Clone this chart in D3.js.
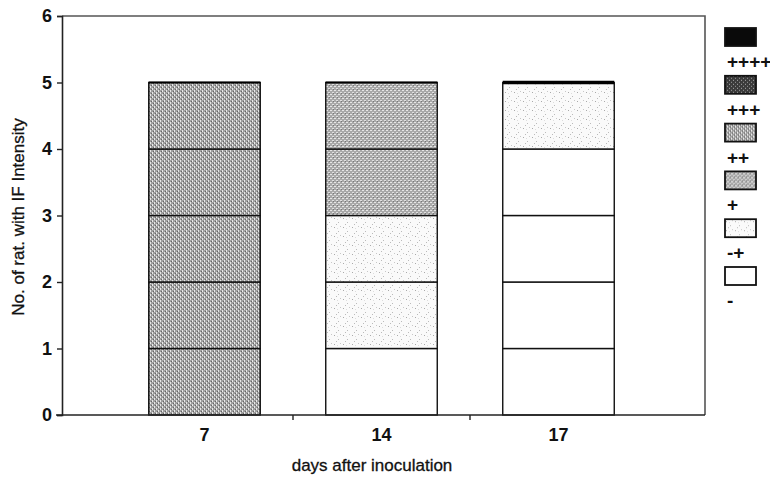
<!DOCTYPE html>
<html>
<head>
<meta charset="utf-8">
<script src="https://cdn.jsdelivr.net/npm/d3@7"></script>
<style>
body { margin: 0; background: #fff; }
text { font-family: "Liberation Sans Narrow", "Liberation Sans", Arial, sans-serif; fill: #111; }
</style>
</head>
<body>
<div class="container"></div>
<script>
// days after inoculation
var days = ["7", "14", "17"];
// IF intensity levels, bottom of stack first
var levels = ["-", "-+", "+", "++", "+++", "++++"];
// number of rats per level for each day
var cntMinus     = [0, 1, 4];
var cntMinusPlus = [0, 2, 1];
var cntPlus      = [0, 2, 0];
var cntPlus2     = [5, 0, 0];
var cntPlus3     = [0, 0, 0];
var cntPlus4     = [0, 0, 0];
var yTicks = [0, 1, 2, 3, 4, 5, 6];

var counts = [cntMinus, cntMinusPlus, cntPlus, cntPlus2, cntPlus3, cntPlus4];

var W = 770, H = 481;
var svg = d3.select(".container").append("svg")
  .attr("width", W).attr("height", H);

// fill patterns that mimic the scanned screens
var defs = svg.append("defs");
function makePattern(id, bg, size, dots) {
  var p = defs.append("pattern").attr("id", id)
    .attr("patternUnits", "userSpaceOnUse")
    .attr("width", size).attr("height", size);
  p.append("rect").attr("width", size).attr("height", size).attr("fill", bg);
  dots.forEach(function (d) {
    p.append("rect").attr("x", d[0]).attr("y", d[1])
      .attr("width", d[2]).attr("height", d[3]).attr("fill", d[4]);
  });
}
makePattern("pM", "#fff", 6, []);
makePattern("pMP", "#fafafa", 9, [[1, 2, 1, 1, "#aaa"], [5, 6, 1, 1, "#bbb"], [7, 1, 1, 1, "#c8c8c8"], [3, 8, 1, 1, "#bbb"], [4, 3, 1, 1, "#ddd"]]);
makePattern("pP", "#a9a9a9", 4, [[0, 0, 2, 1, "#e0e0e0"], [2, 2, 2, 1, "#e6e6e6"], [1, 1, 1, 1, "#777"]]);
makePattern("pP2", "#9f9f9f", 4, [[0, 0, 1, 2, "#e8e8e8"], [2, 2, 1, 2, "#e8e8e8"], [1, 3, 1, 1, "#666"], [3, 1, 1, 1, "#666"]]);
makePattern("pP3", "#3a3a3a", 4, [[0, 0, 1, 1, "#aaa"], [2, 2, 1, 1, "#999"]]);
makePattern("pP4", "#0a0a0a", 4, []);
var fills = ["url(#pM)", "url(#pMP)", "url(#pP)", "url(#pP2)", "url(#pP3)", "url(#pP4)"];

var mLeft = 62, mRight = 705, mTop = 16, mBottom = 415;
var x = d3.scaleBand().domain(days).range([116, 647]).paddingInner(0.37).paddingOuter(0.185);
var y = d3.scaleLinear().domain([0, 6]).range([mBottom, mTop]);

// one unit rectangle per rat, stacked bottom up
var cells = [];
days.forEach(function (day, i) {
  var acc = 0;
  levels.forEach(function (lv, k) {
    for (var n = 0; n < counts[k][i]; n++) {
      cells.push({day: day, level: k, y0: acc, y1: acc + 1});
      acc += 1;
    }
  });
});

svg.append("g").selectAll("rect").data(cells).enter().append("rect")
  .attr("x", function (d) { return x(d.day); })
  .attr("y", function (d) { return y(d.y1); })
  .attr("width", x.bandwidth())
  .attr("height", function (d) { return y(d.y0) - y(d.y1); })
  .attr("fill", function (d) { return fills[d.level]; })
  .attr("stroke", "#111")
  .attr("stroke-width", 1.4);

// darker cap on top of each stack
days.forEach(function (day, i) {
  var total = d3.sum(counts, function (c) { return c[i]; });
  svg.append("line")
    .attr("x1", x(day)).attr("x2", x(day) + x.bandwidth())
    .attr("y1", y(total)).attr("y2", y(total))
    .attr("stroke", "#000").attr("stroke-width", i == 2 ? 3.5 : 2);
});

// frame top and right
svg.append("path")
  .attr("d", "M" + mLeft + "," + mTop + "H" + mRight + "V" + mBottom)
  .attr("fill", "none").attr("stroke", "#555").attr("stroke-width", 1.6);

// y axis
var yAxis = svg.append("g").attr("transform", "translate(" + mLeft + ",0)")
  .call(d3.axisLeft(y).tickValues(yTicks).tickFormat(d3.format("d")).tickSize(5));
yAxis.select(".domain").attr("stroke", "#222").attr("stroke-width", 1.6);
yAxis.selectAll("line").attr("stroke", "#222").attr("stroke-width", 1.4);
yAxis.selectAll("text").attr("font-size", 18).attr("font-weight", "bold").attr("dx", "-2");

// x axis: labels centred under bars, small ticks between bars
var xAxis = svg.append("g").attr("transform", "translate(0," + mBottom + ")")
  .call(d3.axisBottom(x).tickSize(0).tickPadding(13));
xAxis.select(".domain").remove();
xAxis.selectAll("text").attr("font-size", 18).attr("font-weight", "bold");
svg.append("line").attr("x1", mLeft - 6).attr("x2", mRight)
  .attr("y1", mBottom).attr("y2", mBottom)
  .attr("stroke", "#222").attr("stroke-width", 1.6);
var step = x.step();
svg.append("g").selectAll("line").data(days.slice(1)).enter().append("line")
  .attr("x1", function (d) { return x(d) - (step - x.bandwidth()) / 2; })
  .attr("x2", function (d) { return x(d) - (step - x.bandwidth()) / 2; })
  .attr("y1", mBottom).attr("y2", mBottom + 5)
  .attr("stroke", "#222").attr("stroke-width", 1.4);

svg.append("text").text("days after inoculation")
  .attr("x", 372).attr("y", 471)
  .attr("text-anchor", "middle").attr("font-size", 17)
  .attr("stroke", "#111").attr("stroke-width", 0.3);

svg.append("text").text("No. of rat. with IF Intensity")
  .attr("transform", "translate(24,217) rotate(-90)")
  .attr("text-anchor", "middle").attr("font-size", 17)
  .attr("stroke", "#111").attr("stroke-width", 0.3);

// legend: swatch with its label underneath
var legendLevels = levels.slice().reverse();
var leg = svg.append("g").selectAll("g").data(legendLevels).enter().append("g")
  .attr("transform", function (d, i) { return "translate(725," + (28 + i * 47.8) + ")"; });
leg.append("rect")
  .attr("width", 31).attr("height", 18)
  .attr("fill", function (d) { return fills[levels.indexOf(d)]; })
  .attr("stroke", "#111").attr("stroke-width", 1.8);
leg.append("text").text(function (d) { return d; })
  .attr("x", 2).attr("y", 40)
  .attr("font-size", 19).attr("font-weight", "bold");
</script>
</body>
</html>
